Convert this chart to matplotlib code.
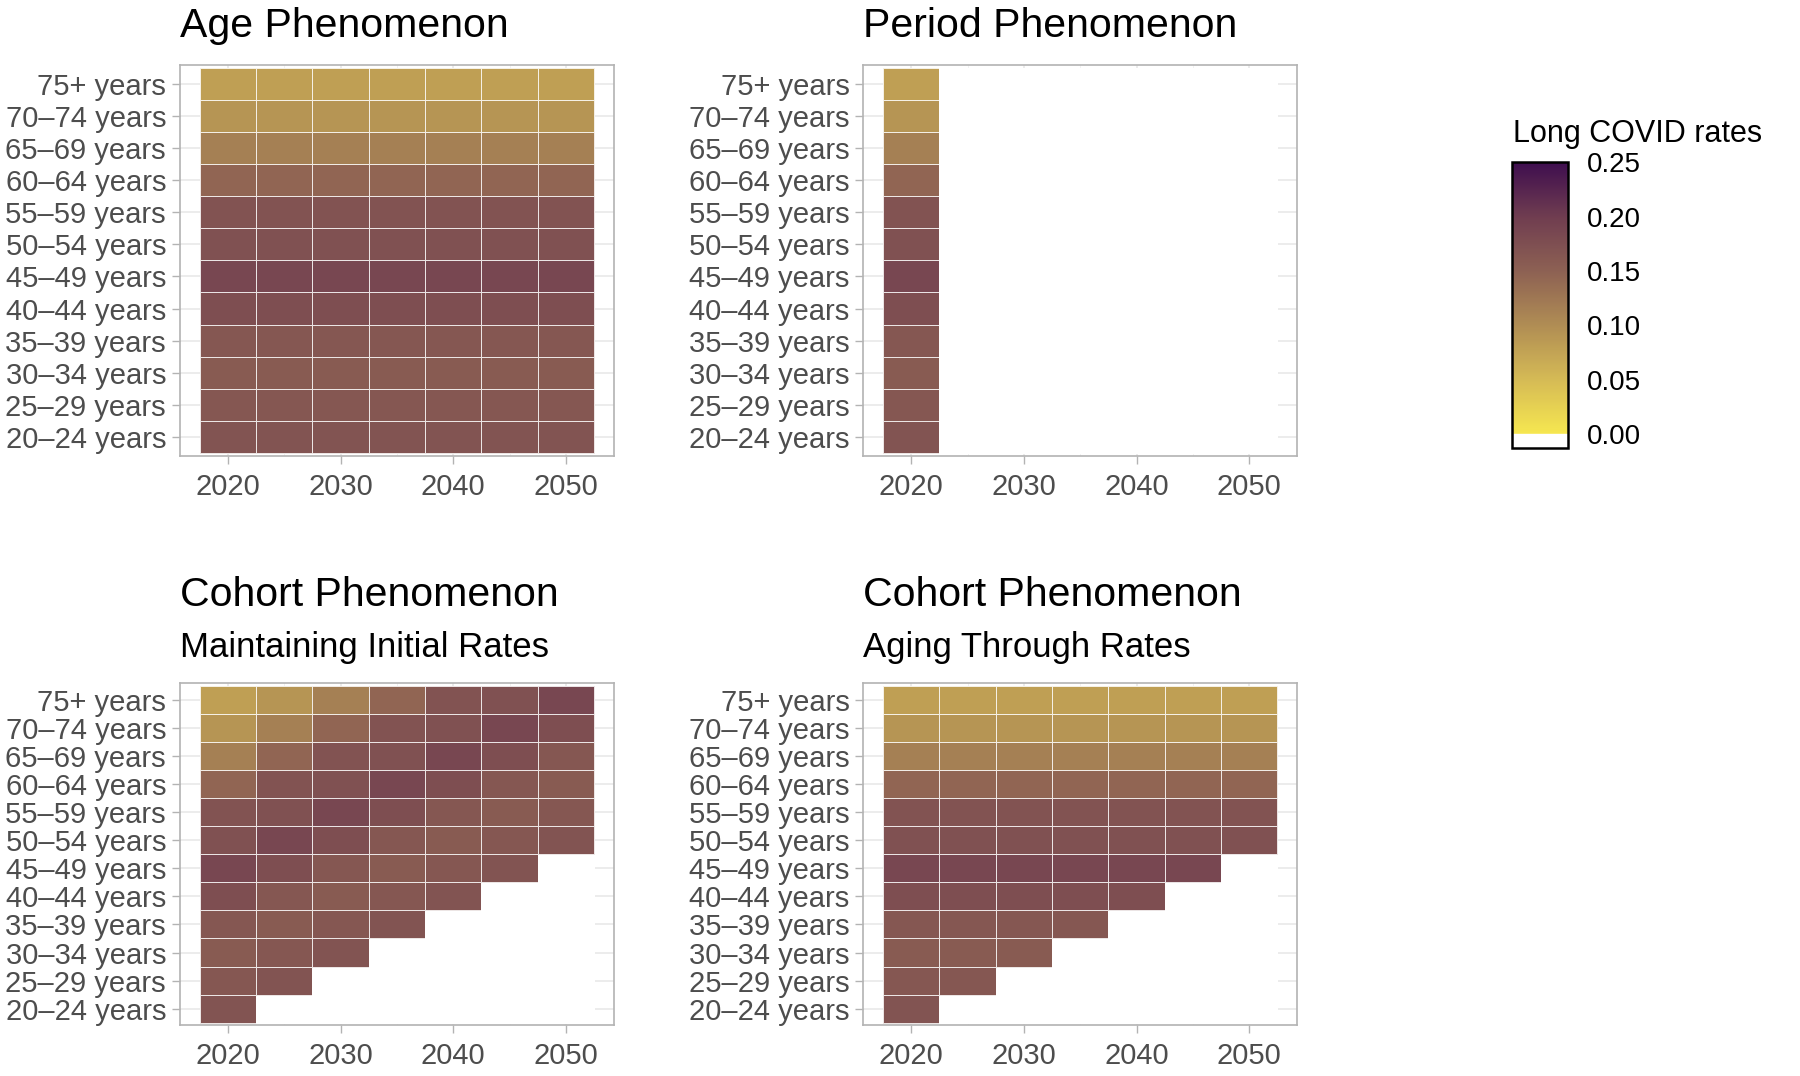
import matplotlib
matplotlib.use("Agg")
import matplotlib.pyplot as plt
import numpy as np
from matplotlib.colors import LinearSegmentedColormap, Normalize
from matplotlib.cm import ScalarMappable

plt.rcParams['font.family'] = ['Liberation Sans', 'DejaVu Sans']

NA = np.nan
years = [2020, 2025, 2030, 2035, 2040, 2045, 2050]
ages = ["20\u201324 years", "25\u201329 years", "30\u201334 years", "35\u201339 years",
        "40\u201344 years", "45\u201349 years", "50\u201354 years", "55\u201359 years",
        "60\u201364 years", "65\u201369 years", "70\u201374 years", "75+ years"]

# rows = age groups (20-24 first), cols = years
age_rates = [
    [0.168, 0.168, 0.168, 0.168, 0.168, 0.168, 0.168],
    [0.164, 0.164, 0.164, 0.164, 0.164, 0.164, 0.164],
    [0.158, 0.158, 0.158, 0.158, 0.158, 0.158, 0.158],
    [0.164, 0.164, 0.164, 0.164, 0.164, 0.164, 0.164],
    [0.176, 0.176, 0.176, 0.176, 0.176, 0.176, 0.176],
    [0.186, 0.186, 0.186, 0.186, 0.186, 0.186, 0.186],
    [0.172, 0.172, 0.172, 0.172, 0.172, 0.172, 0.172],
    [0.170, 0.170, 0.170, 0.170, 0.170, 0.170, 0.170],
    [0.145, 0.145, 0.145, 0.145, 0.145, 0.145, 0.145],
    [0.115, 0.115, 0.115, 0.115, 0.115, 0.115, 0.115],
    [0.092, 0.092, 0.092, 0.092, 0.092, 0.092, 0.092],
    [0.080, 0.080, 0.080, 0.080, 0.080, 0.080, 0.080],
]

period_rates = [
    [0.168, NA, NA, NA, NA, NA, NA],
    [0.164, NA, NA, NA, NA, NA, NA],
    [0.158, NA, NA, NA, NA, NA, NA],
    [0.164, NA, NA, NA, NA, NA, NA],
    [0.176, NA, NA, NA, NA, NA, NA],
    [0.186, NA, NA, NA, NA, NA, NA],
    [0.172, NA, NA, NA, NA, NA, NA],
    [0.170, NA, NA, NA, NA, NA, NA],
    [0.145, NA, NA, NA, NA, NA, NA],
    [0.115, NA, NA, NA, NA, NA, NA],
    [0.092, NA, NA, NA, NA, NA, NA],
    [0.080, NA, NA, NA, NA, NA, NA],
]

cohort_keep = [
    [0.168, NA, NA, NA, NA, NA, NA],
    [0.164, 0.168, NA, NA, NA, NA, NA],
    [0.158, 0.164, 0.168, NA, NA, NA, NA],
    [0.164, 0.158, 0.164, 0.168, NA, NA, NA],
    [0.176, 0.164, 0.158, 0.164, 0.168, NA, NA],
    [0.186, 0.176, 0.164, 0.158, 0.164, 0.168, NA],
    [0.172, 0.186, 0.176, 0.164, 0.158, 0.164, 0.168],
    [0.170, 0.172, 0.186, 0.176, 0.164, 0.158, 0.164],
    [0.145, 0.170, 0.172, 0.186, 0.176, 0.164, 0.158],
    [0.115, 0.145, 0.170, 0.172, 0.186, 0.176, 0.164],
    [0.092, 0.115, 0.145, 0.170, 0.172, 0.186, 0.176],
    [0.080, 0.092, 0.115, 0.145, 0.170, 0.172, 0.186],
]

cohort_aging = [
    [0.168, NA, NA, NA, NA, NA, NA],
    [0.164, 0.164, NA, NA, NA, NA, NA],
    [0.158, 0.158, 0.158, NA, NA, NA, NA],
    [0.164, 0.164, 0.164, 0.164, NA, NA, NA],
    [0.176, 0.176, 0.176, 0.176, 0.176, NA, NA],
    [0.186, 0.186, 0.186, 0.186, 0.186, 0.186, NA],
    [0.172, 0.172, 0.172, 0.172, 0.172, 0.172, 0.172],
    [0.170, 0.170, 0.170, 0.170, 0.170, 0.170, 0.170],
    [0.145, 0.145, 0.145, 0.145, 0.145, 0.145, 0.145],
    [0.115, 0.115, 0.115, 0.115, 0.115, 0.115, 0.115],
    [0.092, 0.092, 0.092, 0.092, 0.092, 0.092, 0.092],
    [0.080, 0.080, 0.080, 0.080, 0.080, 0.080, 0.080],
]

vmin, vmax = -0.0125, 0.25
stops = [(-0.0125, "#FFFFFF"), (-0.0008, "#FFFFFF"), (0.0, "#F6E750"),
         (0.05, "#D5BA55"), (0.10, "#B08D54"), (0.15, "#8D6153"),
         (0.20, "#703D50"), (0.25, "#3F0E4F")]
cmap = LinearSegmentedColormap.from_list(
    "lc", [((v - vmin) / (vmax - vmin), c) for v, c in stops])
cmap.set_bad("white")
norm = Normalize(vmin=vmin, vmax=vmax)

fig = plt.figure(figsize=(18, 10.76), dpi=100)

panels = [
    (age_rates, [0.100, 0.576, 0.241, 0.364], "Age Phenomenon", None),
    (period_rates, [0.4796, 0.576, 0.241, 0.364], "Period Phenomenon", None),
    (cohort_keep, [0.100, 0.047, 0.241, 0.318], "Cohort Phenomenon", "Maintaining Initial Rates"),
    (cohort_aging, [0.4796, 0.047, 0.241, 0.318], "Cohort Phenomenon", "Aging Through Rates"),
]

xe = [y - 2.5 for y in years] + [years[-1] + 2.5]
ye = np.arange(len(ages) + 1) + 0.5

for data, pos, title, sub in panels:
    ax = fig.add_axes(pos)
    z = np.ma.masked_invalid(np.array(data, dtype=float))
    ax.pcolormesh(xe, ye, z, cmap=cmap, norm=norm, edgecolors=(1, 1, 1, 0.85), linewidth=0.5)
    ax.set_xlim(2015.75, 2054.25)
    ax.set_ylim(0.4, len(ages) + 0.6)
    ax.set_yticks(np.arange(1, len(ages) + 1))
    ax.set_yticklabels(ages)
    ax.set_xticks([2020, 2030, 2040, 2050])
    ax.set_xticks([2025, 2035, 2045], minor=True)
    ax.set_axisbelow(True)
    ax.grid(which="major", color="#EBEBEB", linewidth=1.3)
    ax.grid(which="minor", axis="x", color="#F2F2F2", linewidth=0.7)
    ax.tick_params(which="major", length=5.5, width=1, color="#B3B3B3",
                   labelsize=21, labelcolor="#4D4D4D")
    ax.tick_params(axis="y", pad=4.5)
    ax.tick_params(axis="x", pad=6.5)
    ax.tick_params(which="minor", length=0)
    for s in ax.spines.values():
        s.set_color("#B3B3B3")
        s.set_linewidth(1.2)
    if sub is None:
        fig.text(pos[0], 0.966, title, fontsize=29.5, color="black", va="baseline")
    else:
        fig.text(pos[0], 0.437, title, fontsize=29.5, color="black", va="baseline")
        fig.text(pos[0], 0.389, sub, fontsize=25, color="black", va="baseline")

cax = fig.add_axes([0.840, 0.584, 0.031, 0.265])
sm = ScalarMappable(norm=norm, cmap=cmap)
cb = fig.colorbar(sm, cax=cax)
cb.outline.set_edgecolor("black")
cb.outline.set_linewidth(1.8)
cb.set_ticks([0.0, 0.05, 0.10, 0.15, 0.20, 0.25])
cb.set_ticklabels(["0.00", "0.05", "0.10", "0.15", "0.20", "0.25"])
cax.yaxis.set_ticks([0.05, 0.10, 0.15, 0.20], minor=True)
cax.tick_params(which="major", length=0, labelsize=20, labelcolor="black", pad=14)
cax.tick_params(which="minor", direction="in", length=7, width=1.2, color="#EEEEEE",
                left=True, right=True)
fig.text(0.8406, 0.868, "Long COVID rates", fontsize=22, color="black", va="baseline")

fig.savefig("out.png", dpi=100)
